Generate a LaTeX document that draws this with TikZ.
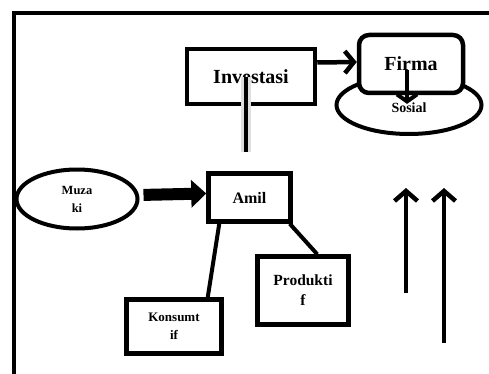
\documentclass[tikz,border=0pt]{standalone}
\usepackage{fontspec}
\setmainfont{Liberation Serif}
\usetikzlibrary{shapes,arrows.meta}

\tikzset{
  kotak/.style={draw, line width=4.5pt, fill=white, align=center, inner sep=0pt},
  lonjong/.style={draw, ellipse, line width=4pt, fill=white, align=center, inner sep=0pt},
  panah/.style={line width=4.5pt, -{Straight Barb[length=9pt,width=22pt]}},
  garis/.style={line width=4pt}
}

\begin{document}
\begin{tikzpicture}[x=1pt,y=-1pt]
    \useasboundingbox (0,0) rectangle (489,374);

    % Frame
    \draw[line width=4pt] (14,380) -- (14,13) -- (495,13);

    % Firma and the ring under it
    \node[lonjong, minimum width=145, minimum height=58] (ring) at (409,105) {};
    \node[kotak, rounded corners=10pt, minimum width=104, minimum height=58,
          font=\bfseries\fontsize{20}{22}\selectfont] (firma) at (411,64) {Firma};
    \node[font=\bfseries\fontsize{14}{16}\selectfont, inner sep=1pt] (sos) at (409,108) {Sosial};
    \draw[panah, line width=4pt, -{Straight Barb[length=7pt,width=20pt]}] ([xshift=-4pt,yshift=-6pt]firma.center) -- ([xshift=-2pt,yshift=-2pt]sos.north);

    % Investasi
    \node[kotak, minimum width=128, minimum height=55,
          font=\bfseries\fontsize{20}{22}\selectfont] (inv) at (251,76.5) {Investasi};
    \draw[panah] ([yshift=14pt]inv.east) -- ([yshift=2pt]firma.west);
    \coordinate (invdown) at (246,152);
    \draw[line width=10pt, gray!25] ([xshift=-5pt,yshift=-1pt]inv.center) -- (invdown);
    \draw[line width=4pt] ([xshift=-5pt,yshift=-1pt]inv.center) -- (invdown);

    % Muzaki to Amil
    \node[lonjong, minimum width=121, minimum height=59,
          font=\bfseries\fontsize{12.5}{18}\selectfont] (muz) at (77,199) {Muza\\ki};
    \node[kotak, minimum width=82, minimum height=48,
          font=\bfseries\fontsize{16}{18}\selectfont] (amil) at (249.5,197.5) {Amil};
    \draw[line width=12pt, -{Triangle[length=15pt,width=27pt]}, shorten <=4pt]
        ([yshift=4pt]muz.east) -- ([yshift=4pt]amil.west);

    % Distribution
    \node[kotak, minimum width=95, minimum height=54,
          font=\bfseries\fontsize{13}{18}\selectfont] (kons) at (174,326.5) {Konsumt\\if};
    \node[kotak, minimum width=91, minimum height=68,
          font=\bfseries\fontsize{15.5}{20}\selectfont] (prod) at (303,290.5) {Produkti\\f};
    \draw[garis] ([xshift=13pt]amil.south west) -- ([xshift=-16pt]kons.north east);
    \draw[garis] ([xshift=-3pt]amil.south east) -- ([xshift=62pt]prod.north west);

    % Upward arrows
    \coordinate (naik1) at (406,293);
    \coordinate (naik2) at (444,343);
    \draw[panah, -{Straight Barb[length=10pt,width=23pt]}] (naik1) -- (naik1 |- 0,188);
    \draw[panah, -{Straight Barb[length=10pt,width=23pt]}] (naik2) -- (naik2 |- 0,188);
\end{tikzpicture}
\end{document}
